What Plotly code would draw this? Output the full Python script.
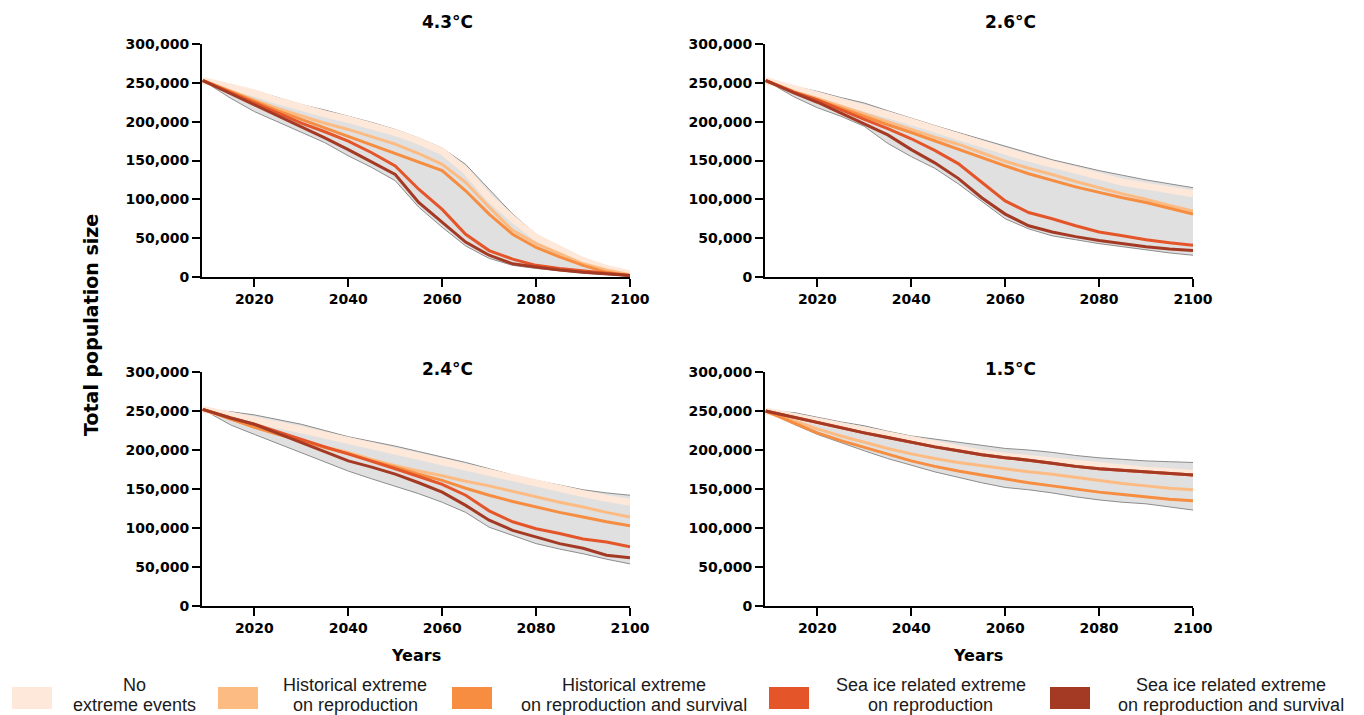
import plotly.graph_objects as go

# ---------------- data ----------------
years = [2009, 2015, 2020, 2025, 2030, 2035, 2040, 2045, 2050, 2055,
         2060, 2065, 2070, 2075, 2080, 2085, 2090, 2095, 2100]

panel_titles = ["4.3°C", "2.6°C", "2.4°C", "1.5°C"]

series_names = [
    "No<br>extreme events",
    "Historical extreme<br>on reproduction",
    "Historical extreme<br>on reproduction and survival",
    "Sea ice related extreme<br>on reproduction",
    "Sea ice related extreme<br>on reproduction and survival",
]
series_colors = ["#fde8d9", "#fdbb84", "#f68d40", "#e4552a", "#a53a24"]

x_ticks = [2020, 2040, 2060, 2080, 2100]
y_ticks = [0, 50000, 100000, 150000, 200000, 250000, 300000]

# 4.3°C
p43_upper = [253000, 246000, 240000, 231000, 222000, 215000, 207000, 199000, 190000, 179000,
             166000, 145000, 113000, 81000, 55000, 38000, 23000, 13000, 6000]
p43_lower = [253000, 230000, 213000, 200000, 186000, 173000, 156000, 141000, 124000, 90000,
             64000, 40000, 24000, 15000, 11000, 8000, 5000, 3000, 1000]
p43_none = [253000, 244000, 237000, 227000, 218000, 210000, 203000, 195000, 186000, 175000,
            162000, 137000, 102000, 75000, 51000, 36000, 21000, 11000, 4000]
p43_hist_r = [253000, 239000, 228000, 217000, 207000, 198000, 190000, 180000, 171000, 159000,
              145000, 122000, 90000, 60000, 43000, 30000, 17000, 9000, 3000]
p43_hist_rs = [253000, 238000, 226000, 214000, 203000, 192000, 181000, 170000, 160000, 149000,
               137000, 111000, 81000, 55000, 38000, 26000, 15000, 6000, 2000]
p43_ice_r = [253000, 237000, 224000, 211000, 198000, 187000, 175000, 160000, 143000, 113000,
             87000, 55000, 34000, 23000, 15000, 11000, 8000, 5000, 2000]
p43_ice_rs = [253000, 236000, 222000, 208000, 194000, 179000, 164000, 148000, 132000, 96000,
              70000, 45000, 28000, 17000, 13000, 9000, 6000, 4000, 2000]

# 2.6°C
p26_upper = [253000, 245000, 239000, 231000, 224000, 214000, 204000, 195000, 186000, 177000,
             169000, 160000, 151000, 144000, 137000, 131000, 125000, 120000, 115000]
p26_lower = [253000, 232000, 218000, 207000, 194000, 172000, 155000, 140000, 120000, 98000,
             75000, 62000, 53000, 48000, 43000, 39000, 35000, 31000, 28000]
p26_none = [253000, 243000, 236000, 227000, 218000, 209000, 200000, 190000, 181000, 171000,
            162000, 153000, 145000, 136000, 128000, 122000, 117000, 112000, 107000]
p26_hist_r = [253000, 239000, 230000, 220000, 211000, 200000, 190000, 180000, 171000, 160000,
              149000, 140000, 132000, 123000, 115000, 107000, 100000, 92000, 85000]
p26_hist_rs = [253000, 238000, 228000, 217000, 207000, 196000, 186000, 175000, 164000, 153000,
               143000, 133000, 124000, 116000, 109000, 102000, 96000, 88000, 81000]
p26_ice_r = [253000, 238000, 228000, 215000, 203000, 191000, 178000, 163000, 146000, 122000,
             98000, 83000, 75000, 66000, 58000, 53000, 48000, 44000, 41000]
p26_ice_rs = [253000, 237000, 225000, 211000, 197000, 183000, 164000, 147000, 127000, 102000,
              81000, 66000, 58000, 52000, 47000, 43000, 39000, 36000, 34000]

# 2.4°C
p24_upper = [252000, 249000, 245000, 239000, 233000, 225000, 217000, 211000, 205000, 198000,
             191000, 184000, 176000, 168000, 161000, 155000, 149000, 145000, 142000]
p24_lower = [252000, 232000, 220000, 208000, 197000, 185000, 173000, 163000, 154000, 144000,
             133000, 120000, 101000, 91000, 80000, 73000, 67000, 60000, 54000]
p24_none = [252000, 245000, 239000, 232000, 226000, 219000, 212000, 205000, 198000, 191000,
            184000, 177000, 170000, 163000, 156000, 150000, 144000, 138000, 133000]
p24_hist_r = [252000, 240000, 231000, 221000, 212000, 204000, 197000, 188000, 180000, 173000,
              167000, 160000, 154000, 147000, 140000, 133000, 127000, 120000, 114000]
p24_hist_rs = [252000, 239000, 229000, 220000, 212000, 203000, 195000, 186000, 178000, 169000,
               161000, 151000, 142000, 134000, 127000, 120000, 114000, 108000, 103000]
p24_ice_r = [252000, 241000, 233000, 223000, 214000, 204000, 195000, 186000, 176000, 166000,
             156000, 142000, 122000, 108000, 99000, 93000, 86000, 82000, 76000]
p24_ice_rs = [252000, 241000, 233000, 221000, 210000, 198000, 186000, 178000, 169000, 158000,
              146000, 129000, 110000, 97000, 88000, 80000, 74000, 65000, 62000]

# 1.5°C
p15_upper = [250000, 248000, 242000, 236000, 231000, 224000, 218000, 214000, 210000, 206000,
             202000, 200000, 197000, 193000, 190000, 188000, 186000, 185000, 184000]
p15_lower = [250000, 233000, 220000, 209000, 199000, 189000, 180000, 172000, 165000, 158000,
             152000, 149000, 145000, 140000, 136000, 133000, 131000, 127000, 123000]
p15_none = [250000, 243000, 237000, 230000, 224000, 218000, 212000, 206000, 201000, 196000,
            192000, 189000, 185000, 181000, 178000, 176000, 174000, 172000, 170000]
p15_hist_r = [250000, 237000, 227000, 218000, 210000, 202000, 195000, 189000, 184000, 180000,
              176000, 172000, 169000, 165000, 161000, 157000, 154000, 151000, 149000]
p15_hist_rs = [250000, 235000, 222000, 212000, 203000, 194000, 186000, 179000, 173000, 168000,
               163000, 158000, 154000, 150000, 146000, 143000, 140000, 137000, 135000]
p15_ice_r = [250000, 242000, 235000, 228000, 222000, 216000, 210000, 204000, 199000, 194000,
             190000, 187000, 183000, 179000, 176000, 174000, 172000, 170000, 168000]
p15_ice_rs = [250000, 242000, 235000, 228000, 222000, 216000, 210000, 204000, 199000, 194000,
              190000, 187000, 183000, 179000, 176000, 174000, 172000, 170000, 168000]

panels = [
    (p43_upper, p43_lower, [p43_none, p43_hist_r, p43_hist_rs, p43_ice_r, p43_ice_rs]),
    (p26_upper, p26_lower, [p26_none, p26_hist_r, p26_hist_rs, p26_ice_r, p26_ice_rs]),
    (p24_upper, p24_lower, [p24_none, p24_hist_r, p24_hist_rs, p24_ice_r, p24_ice_rs]),
    (p15_upper, p15_lower, [p15_none, p15_hist_r, p15_hist_rs, p15_ice_r, p15_ice_rs]),
]

# ---------------- layout helpers ----------------
W, H = 1364, 715
# pixel boxes for panels: (left, right, top, bottom)
boxes = [(202, 630, 44, 277), (765, 1193, 44, 277),
         (202, 630, 372, 606), (765, 1193, 372, 606)]
title_pos = [(447, 22), (1010, 22), (447, 369), (1010, 369)]

BOLD = "DejaVu Sans"
fig = go.Figure()
line_widths = [7, 3, 3, 3, 3]


def px(xp, yp):
    return xp / W, 1 - yp / H


for i, (upper, lower, series) in enumerate(panels):
    ax = "" if i == 0 else str(i + 1)
    xa, ya = "x" + ax, "y" + ax
    fig.add_trace(go.Scatter(x=years, y=lower, xaxis=xa, yaxis=ya, mode="lines",
                             line=dict(color="#8c8c8c", width=1), hoverinfo="skip",
                             showlegend=False))
    fig.add_trace(go.Scatter(x=years, y=upper, xaxis=xa, yaxis=ya, mode="lines",
                             line=dict(color="#8c8c8c", width=1), fill="tonexty",
                             fillcolor="#e0e0e0", hoverinfo="skip", showlegend=False))
    for s, vals in enumerate(series):
        fig.add_trace(go.Scatter(x=years, y=vals, xaxis=xa, yaxis=ya, mode="lines",
                                 line=dict(color=series_colors[s], width=line_widths[s]),
                                 name=series_names[s], showlegend=False))
    l, r, t, b = boxes[i]
    common = dict(showgrid=False, zeroline=False, showline=True, linecolor="black",
                  linewidth=2, ticks="outside", ticklen=8, tickwidth=2, tickcolor="black",
                  automargin=False,
                  tickfont=dict(family=BOLD, size=14, color="black", weight="bold"))
    fig.layout["xaxis" + ax] = dict(domain=[l / W, r / W], anchor=ya,
                                    range=[2008.85, 2100], tickvals=x_ticks, **common)
    fig.layout["yaxis" + ax] = dict(domain=[1 - b / H, 1 - t / H], anchor=xa,
                                    range=[0, 300000], tickvals=y_ticks,
                                    tickformat=",d", **common)
    tx, ty = px(*title_pos[i])
    fig.add_annotation(text="<b>%s</b>" % panel_titles[i], xref="paper", yref="paper",
                       x=tx, y=ty, xanchor="center", yanchor="middle", showarrow=False,
                       font=dict(family=BOLD, size=17, color="black"))

# axis titles
tx, ty = px(91, 325)
fig.add_annotation(text="<b>Total population size</b>", xref="paper", yref="paper",
                   x=tx, y=ty, xanchor="center", yanchor="middle", textangle=-90,
                   showarrow=False, font=dict(family=BOLD, size=19, color="black"))
for cx in (416, 978):
    tx, ty = px(cx, 655)
    fig.add_annotation(text="<b>Years</b>", xref="paper", yref="paper",
                       x=tx, y=ty, xanchor="center", yanchor="middle", showarrow=False,
                       font=dict(family=BOLD, size=16, color="black"))

# legend (swatch + centered two-line label)
swatch_left = [12, 218, 452, 769, 1050]
label_center = [134, 355, 634, 931, 1231]
line_y = [685, 705]
for s in range(5):
    x0, y0 = px(swatch_left[s], 709)
    x1, y1 = px(swatch_left[s] + 40, 687)
    fig.add_shape(type="rect", xref="paper", yref="paper", x0=x0, x1=x1, y0=y0, y1=y1,
                  fillcolor=series_colors[s], line=dict(width=0))
    for k, part in enumerate(series_names[s].split("<br>")):
        tx, ty = px(label_center[s], line_y[k])
        fig.add_annotation(text=part, xref="paper", yref="paper",
                           x=tx, y=ty, xanchor="center", yanchor="middle",
                           showarrow=False,
                           font=dict(family="Liberation Sans", size=18, color="#1a1a1a"))

fig.update_layout(width=W, height=H, margin=dict(l=0, r=0, t=0, b=0, pad=0),
                  paper_bgcolor="white", plot_bgcolor="white", hovermode=False,
                  showlegend=False, template="none")

fig.write_html("out.html",
               config={"displayModeBar": False, "staticPlot": True},
               post_script="document.body.style.margin='0';"
                           "document.body.style.overflow='hidden';")
